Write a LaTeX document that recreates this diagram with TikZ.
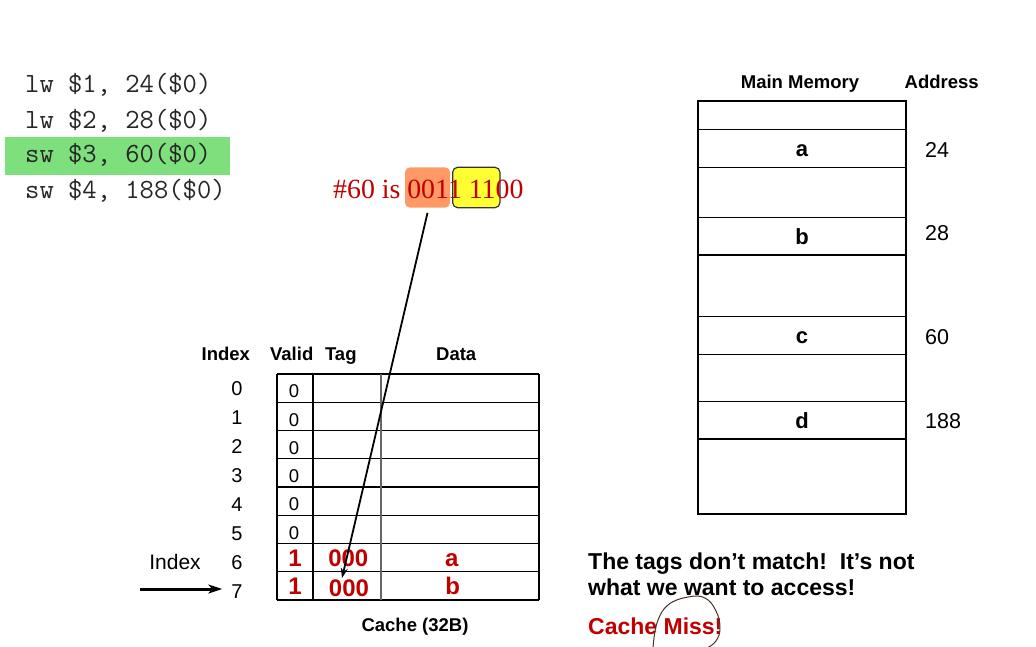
\documentclass[tikz,border=0pt]{standalone}
\usepackage{fontspec}
\setmainfont{Liberation Sans}
\newfontfamily\timesfont{Liberation Serif}
\usetikzlibrary{arrows.meta, positioning}

\definecolor{missred}{HTML}{C00000}
\definecolor{greenfill}{HTML}{7DE07D}
\definecolor{orangefill}{HTML}{FF9966}
\definecolor{yellowfill}{HTML}{FFFF33}
\definecolor{loopbrown}{HTML}{4B3228}

\begin{document}
\begin{tikzpicture}[
    x=1pt, y=-1pt,
    >=Stealth,
    % Text styles
    codeline/.style={
        anchor=base west, inner sep=0pt, text=black!85,
        font=\ttfamily\fontsize{27.8}{32}\selectfont
    },
    head/.style={
        anchor=base, inner sep=0pt,
        font=\bfseries\fontsize{18.5}{22}\selectfont
    },
    idxnum/.style={inner sep=0pt, font=\fontsize{20}{24}\selectfont},
    validnum/.style={inner sep=0pt, font=\fontsize{18.5}{22}\selectfont},
    redval/.style={
        anchor=base, inner sep=0pt, text=missred,
        font=\bfseries\fontsize{24}{28}\selectfont
    },
    addrnum/.style={anchor=west, inner sep=0pt, font=\fontsize{21.5}{26}\selectfont},
    msg/.style={anchor=base west, inner sep=0pt, font=\bfseries\fontsize{23}{28}\selectfont},
    % Box styles
    memcell/.style={
        rectangle, draw, line width=1.2pt,
        minimum width=208pt, minimum height=38pt, inner sep=0pt,
        text height=15.6pt, text depth=0pt,
        font=\bfseries\fontsize{22}{26}\selectfont
    },
    hlbox/.style={rectangle, rounded corners=5pt, inner sep=0pt},
    gridline/.style={line width=1.2pt},
]
\useasboundingbox (0,0) rectangle (1036,647);

%% ---- Instructions ----
\node[hlbox, rounded corners=0pt, fill=greenfill,
      minimum width=225pt, minimum height=37.7pt] (hlcode) at (117.5,156.2) {};
\node[codeline] (code1) at (25,92.3)  {lw \$1, 24(\$0)};
\node[codeline] (code2) at (25,128.3) {lw \$2, 28(\$0)};
\node[codeline] (code3) at (25,163)   {sw \$3, 60(\$0)};
\node[codeline] (code4) at (25,198.3) {sw \$4, 188(\$0)};

%% ---- Address bits ----
\node[hlbox, fill=orangefill, minimum width=45pt, minimum height=40.4pt]
    (hlorange) at (427.5,187.5) {};
\node[hlbox, fill=yellowfill, draw=black!80, line width=1.2pt,
      minimum width=47.3pt, minimum height=40.4pt]
    (hlyellow) at (476.3,187.5) {};
\node[anchor=base west, inner sep=0pt, text=missred,
      font=\timesfont\fontsize{27.8}{32}\selectfont]
    (bits) at (333,198.3) {\#60 is 0011 1100};

%% ---- Cache table ----
\node[head] (hindex) at (225.8,360) {Index};
\node[head] (hvalid) at (291.7,360) {Valid};
\node[head] (htag)   at (340.8,360) {Tag};
\node[head] (hdata)  at (456.2,360) {Data};

\foreach \r in {0,...,8}
    \draw[gridline] (277,{374+28.25*\r}) -- (539,{374+28.25*\r});
\foreach \c in {277,313,539}
    \draw[gridline] (\c,374) -- (\c,600);
\draw[gridline, draw=black!60] (381,374) -- (381,600);

\foreach \r in {0,...,7}
    \node[idxnum] (idx\r) at (237,{388.3+29.05*\r}) {\r};
\foreach \r in {0,...,5}
    \node[validnum] (valid\r) at (294,{391.5+28.25*\r}) {0};

\node[redval] (valid6) at (295,566)   {1};
\node[redval] (tag6)   at (348.3,566) {000};
\node[redval] (data6)  at (451.7,566) {a};
\node[redval] (valid7) at (295,594)   {1};
\node[redval] (tag7)   at (349,596)   {000};
\node[redval] (data7)  at (452.7,594) {b};

\node[head] (cachelbl) at (415,631) {Cache (32B)};

%% ---- Index pointer ----
\node[inner sep=0pt, font=\fontsize{21}{25}\selectfont] (idxlbl) at (175,562) {Index};
\coordinate (idxtail) at (140,589);
\draw[-{Stealth[length=14pt, width=9pt, inset=4pt]}, line width=3pt]
    (idxtail) -- ([xshift=-9pt]idxtail -| idx7.west);

%% ---- Main memory ----
\node[head] (hmem)  at (800,88.3)   {Main Memory};
\node[head] (haddr) at (941.7,88.3) {Address};

\node[memcell, minimum height=413pt] (mem) at (802,307.5) {};
\node[memcell] (memA) at (802,148.3) {a};
\node[memcell, minimum height=37.7pt] (memB) at (802,236.2) {b};
\node[memcell, minimum height=37.6pt] (memC) at (802,335.5) {c};
\node[memcell, minimum height=37.3pt] (memD) at (802,420.4) {d};

\node[addrnum] (addrA) at (925,149.5) {24};
\node[addrnum] (addrB) at (925,233.3) {28};
\node[addrnum] (addrC) at (925,336.7) {60};
\node[addrnum] (addrD) at (925,421)   {188};

%% ---- Lookup arrow ----
\draw[-{Stealth[length=10pt, width=7pt]}, line width=1.8pt]
    ([yshift=-5pt]hlorange.south) -- ([xshift=-7pt, yshift=1pt]tag7.north);

%% ---- Message ----
\node[msg] (msg1) at (588,569.3) {The tags don’t match!\ \ It’s not};
\node[msg] (msg2) at (588,595)   {what we want to access!};
\node[msg, text=missred] (miss) at (588,634.3) {Cache Miss!};

% hand-drawn loop round the word
\draw[loopbrown, line width=1pt] plot[smooth, tension=0.7] coordinates
    {(653,648) (657,623) (668,605) (688,597) (705,598) (716,611) (720,628) (716,641) (707,648)};

\end{tikzpicture}
\end{document}
